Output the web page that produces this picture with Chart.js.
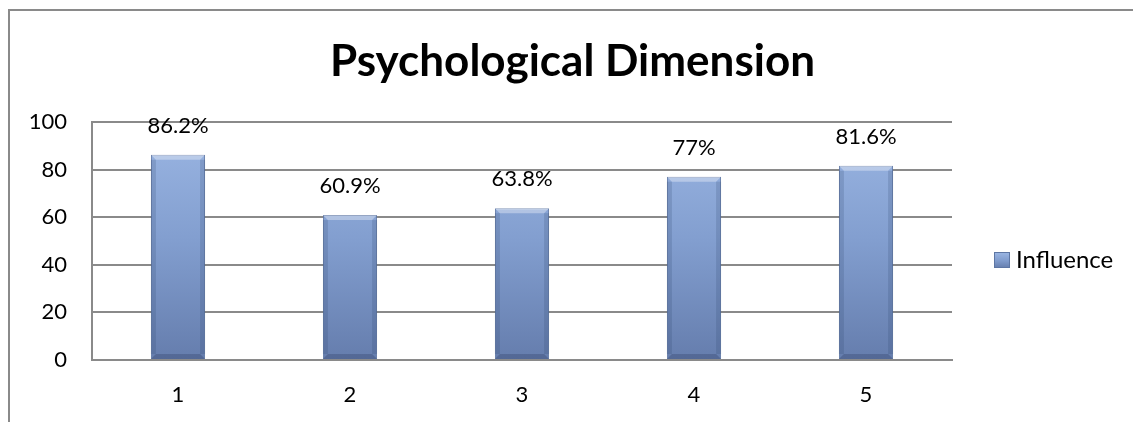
<!DOCTYPE html>
<html>
<head>
<meta charset="utf-8">
<title>Psychological Dimension</title>
<script src="https://cdn.jsdelivr.net/npm/chart.js@4.4.1/dist/chart.umd.min.js"></script>
<style>
  html, body { margin: 0; padding: 0; background: #fff; }
  #wrap { width: 1133px; height: 422px; position: relative; }
</style>
</head>
<body>
<div id="wrap"><canvas id="chart"></canvas></div>
<script>
// Dados
const categories = ["1", "2", "3", "4", "5"];
const influence = [86.2, 60.9, 63.8, 77, 81.6];
const valueLabels = ["86.2%", "60.9%", "63.8%", "77%", "81.6%"];
const yTicks = [0, 20, 40, 60, 80, 100];
const seriesName = "Influence";
const chartTitle = "Psychological Dimension";

const FONT = "Lato, 'Open Sans', sans-serif";

// Gradiente vertical para imitar o efeito das barras do Excel
function barGradient(ctx, top, bottom) {
  const g = ctx.createLinearGradient(0, top, 0, bottom);
  g.addColorStop(0, "#9cb7e4");
  g.addColorStop(0.5, "#829ecf");
  g.addColorStop(1, "#657dad");
  return g;
}

// Chanfro simples nas bordas de cada barra
function drawBevel(ctx, left, right, top, bottom) {
  const b = 5;
  ctx.fillStyle = "rgba(255,255,255,0.35)";
  ctx.beginPath();
  ctx.moveTo(left, top);
  ctx.lineTo(right, top);
  ctx.lineTo(right - b, top + b);
  ctx.lineTo(left + b, top + b);
  ctx.closePath();
  ctx.fill();
  ctx.fillStyle = "rgba(40,60,100,0.18)";
  ctx.fillRect(left, top + b, b, bottom - top - 2 * b);
  ctx.fillRect(right - b, top + b, b, bottom - top - 2 * b);
  ctx.fillStyle = "rgba(30,45,80,0.25)";
  ctx.beginPath();
  ctx.moveTo(left, bottom);
  ctx.lineTo(right, bottom);
  ctx.lineTo(right - b, bottom - b);
  ctx.lineTo(left + b, bottom - b);
  ctx.closePath();
  ctx.fill();
}

// Moldura, título, rótulos de valores e legenda
const decorPlugin = {
  id: "decor",
  beforeDraw(chart) {
    const ctx = chart.ctx;
    ctx.save();
    ctx.fillStyle = "#fff";
    ctx.fillRect(0, 0, chart.width, chart.height);
    ctx.strokeStyle = "#8a8a8a";
    ctx.lineWidth = 2;
    ctx.strokeRect(9, 10, chart.width + 20, chart.height + 20);
    ctx.restore();
  },
  afterDatasetsDraw(chart) {
    const ctx = chart.ctx;
    const meta = chart.getDatasetMeta(0);
    ctx.save();
    meta.data.forEach((bar) => {
      const half = bar.width / 2;
      drawBevel(ctx, bar.x - half, bar.x + half, bar.y, bar.base);
    });
    ctx.fillStyle = "#000";
    ctx.font = `22px ${FONT}`;
    ctx.textAlign = "center";
    ctx.textBaseline = "middle";
    meta.data.forEach((bar, i) => {
      ctx.fillText(valueLabels[i], bar.x, bar.y - 29);
    });
    ctx.restore();
  },
  afterDraw(chart) {
    const ctx = chart.ctx;
    ctx.save();
    // título
    ctx.fillStyle = "#000";
    ctx.font = `bold 44px ${FONT}`;
    ctx.textAlign = "center";
    ctx.textBaseline = "alphabetic";
    ctx.fillText(chartTitle, chart.width / 2 + 6, 76);

    // legenda
    const lx = chart.chartArea.right + 42;
    const ly = 260;
    ctx.fillStyle = barGradient(ctx, ly - 8, ly + 8);
    ctx.fillRect(lx, ly - 8, 16, 16);
    ctx.strokeStyle = "#5d76a4";
    ctx.lineWidth = 1;
    ctx.strokeRect(lx + 0.5, ly - 7.5, 15, 15);
    ctx.fillStyle = "#000";
    ctx.font = `24px ${FONT}`;
    ctx.textAlign = "left";
    ctx.textBaseline = "middle";
    ctx.fillText(seriesName, lx + 22, ly);
    ctx.restore();
  }
};

const ctx = document.getElementById("chart");

new Chart(ctx, {
  type: "bar",
  data: {
    labels: categories,
    datasets: [{
      label: seriesName,
      data: influence,
      backgroundColor: (c) => {
        const area = c.chart.chartArea;
        if (!area) return "#829ecf";
        return barGradient(c.chart.ctx, area.top, area.bottom);
      },
      borderColor: "#5d76a4",
      borderWidth: 1,
      categoryPercentage: 1,
      barPercentage: 0.315
    }]
  },
  options: {
    responsive: true,
    maintainAspectRatio: false,
    animation: false,
    layout: {
      padding: { top: 122, right: 181, bottom: 0, left: 0 }
    },
    plugins: {
      legend: { display: false },
      title: { display: false },
      tooltip: { enabled: false }
    },
    scales: {
      x: {
        afterFit: (axis) => {
          axis.height = 62;
        },
        grid: { display: false, drawTicks: false },
        border: { display: true, color: "#8a8a8a", width: 2 },
        ticks: {
          color: "#000",
          padding: 22,
          font: { family: FONT, size: 22 }
        }
      },
      y: {
        min: 0,
        max: 100,
        afterBuildTicks: (axis) => {
          axis.ticks = yTicks.map((v) => ({ value: v }));
        },
        afterFit: (axis) => {
          axis.width = 92;
        },
        grid: {
          color: "#8a8a8a",
          lineWidth: 2,
          drawTicks: false
        },
        border: { display: true, color: "#8a8a8a", width: 2 },
        ticks: {
          color: "#000",
          padding: 25,
          font: { family: FONT, size: 22 }
        }
      }
    }
  },
  plugins: [decorPlugin]
});
</script>
</body>
</html>
